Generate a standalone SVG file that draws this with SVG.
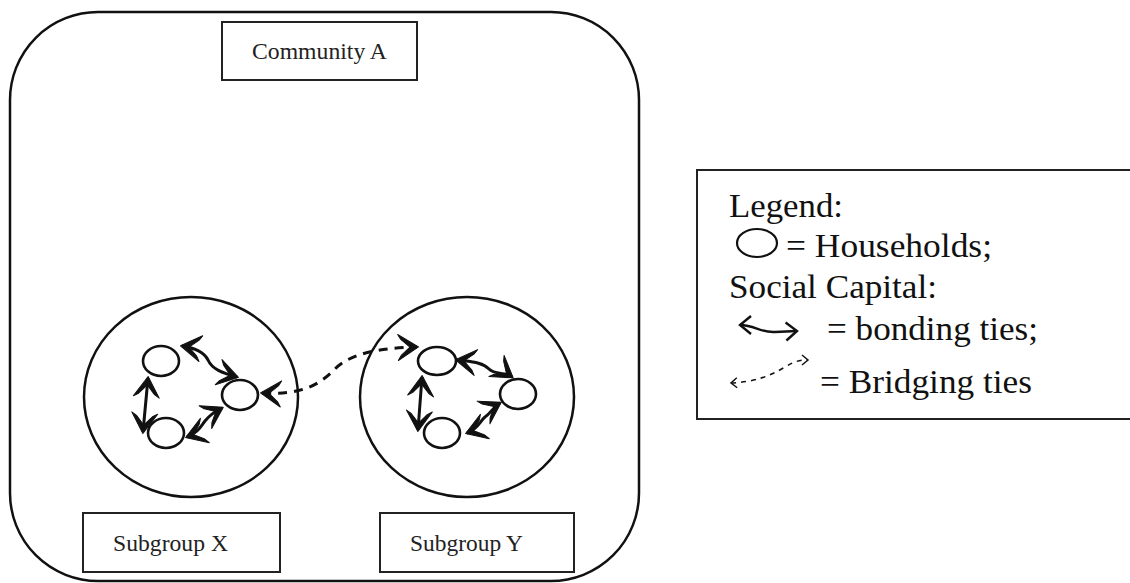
<svg xmlns="http://www.w3.org/2000/svg" width="1130" height="583" viewBox="0 0 1130 583">
  <style>
    .frame { fill: none; stroke: #111; stroke-width: 2.5; }
    .box { fill: #fff; stroke: #222; stroke-width: 2; }
    .label { font-family: "Liberation Serif", "Times New Roman", serif; font-size: 23px; fill: #222; }
    .legend-text { font-family: "Liberation Serif", "Times New Roman", serif; font-size: 33px; fill: #111; }
    .group { fill: none; stroke: #111; stroke-width: 2.5; }
    .house { fill: #fff; stroke: #111; stroke-width: 2.6; }
    .bond { fill: none; stroke: #111; stroke-width: 3; marker-start: url(#barb); marker-end: url(#barb); }
    .bridge { fill: none; stroke: #111; stroke-width: 3; stroke-dasharray: 9 7; marker-start: url(#barb); marker-end: url(#barb); }
    .key-bond { fill: none; stroke: #111; stroke-width: 2.4; marker-start: url(#open); marker-end: url(#open); }
    .key-bridge { fill: none; stroke: #111; stroke-width: 1.5; stroke-dasharray: 5 5; marker-start: url(#open-small); marker-end: url(#open-small); }
  </style>
  <defs>
    <!-- barbed head used on the household ties -->
    <marker id="barb" viewBox="-22 -16 24 32" refX="0" refY="0" markerWidth="24" markerHeight="32" markerUnits="userSpaceOnUse" orient="auto-start-reverse">
      <path d="M1.5,0 L-19,-13 L-16,-8 L-7,0 L-16,8 L-19,13 Z" fill="#111" stroke="#111" stroke-width="1" stroke-linejoin="round"/>
    </marker>
    <marker id="open" viewBox="-14 -11 16 22" refX="0" refY="0" markerWidth="16" markerHeight="22" markerUnits="userSpaceOnUse" orient="auto-start-reverse">
      <path d="M-11,-9 L0,0 L-11,9" fill="none" stroke="#111" stroke-width="2.4"/>
    </marker>
    <marker id="open-small" viewBox="-8 -6 10 12" refX="0" refY="0" markerWidth="10" markerHeight="12" markerUnits="userSpaceOnUse" orient="auto-start-reverse">
      <path d="M-6,-5 L0,0 L-6,5" fill="none" stroke="#111" stroke-width="1.5"/>
    </marker>
  </defs>

  <rect width="1130" height="583" fill="#fff"/>

  <!-- Community boundary -->
  <g id="community-a">
    <rect class="frame" x="10" y="12" width="629" height="569" rx="88" ry="88"/>
    <rect class="box" x="222" y="22" width="195" height="58"/>
    <text class="label" x="252" y="59" textLength="135" lengthAdjust="spacingAndGlyphs">Community A</text>
  </g>

  <!-- Subgroup X -->
  <g id="subgroup-x">
    <ellipse class="group" cx="191" cy="397" rx="107" ry="100"/>
    <rect class="box" x="83" y="513" width="197" height="59"/>
    <text class="label" x="113" y="551" textLength="115" lengthAdjust="spacingAndGlyphs">Subgroup X</text>
  </g>

  <!-- Subgroup Y -->
  <g id="subgroup-y">
    <ellipse class="group" cx="467" cy="397" rx="107" ry="100"/>
    <rect class="box" x="380" y="513" width="194" height="59"/>
    <text class="label" x="410" y="551" textLength="113" lengthAdjust="spacingAndGlyphs">Subgroup Y</text>
  </g>

  <!-- Ties between households -->
  <g id="connectors">
    <!-- bonding ties, subgroup X -->
    <path class="bond" d="M182,346 C196,348 204,352 208,360 C212,369 222,373 237,377"/>
    <path class="bond" d="M148,378 L143,432"/>
    <path class="bond" d="M187,437 C198,433 201,426 205,421 C210,415 213,413 222,408"/>
    <!-- bonding ties, subgroup Y -->
    <path class="bond" d="M457,360 C472,362 482,362 489,369 C495,375 505,372 512,377"/>
    <path class="bond" d="M422,377 L418,430"/>
    <path class="bond" d="M467,433 C478,429 480,421 485,417 C491,413 493,407 500,403"/>
    <!-- bridging tie between subgroups -->
    <path class="bridge" d="M262,393 C300,395 318,386 334,370 C350,353 380,348 417,347"/>
  </g>

  <!-- Households, subgroup X -->
  <g id="household-x1"><ellipse class="house" cx="161" cy="361" rx="18" ry="15"/></g>
  <g id="household-x2"><ellipse class="house" cx="240" cy="395" rx="18" ry="15"/></g>
  <g id="household-x3"><ellipse class="house" cx="166" cy="433" rx="18" ry="15"/></g>

  <!-- Households, subgroup Y -->
  <g id="household-y1"><ellipse class="house" cx="437" cy="361" rx="19" ry="14"/></g>
  <g id="household-y2"><ellipse class="house" cx="518" cy="394" rx="18" ry="15"/></g>
  <g id="household-y3"><ellipse class="house" cx="442" cy="433" rx="18" ry="15"/></g>

  <!-- Legend -->
  <g id="legend">
    <rect class="box" x="697" y="170" width="440" height="249" stroke-width="2.2"/>
    <text class="legend-text" x="729" y="217" textLength="114" lengthAdjust="spacingAndGlyphs">Legend:</text>
    <ellipse cx="757" cy="243" rx="20" ry="14" fill="none" stroke="#111" stroke-width="2.2"/>
    <text class="legend-text" x="786" y="257" textLength="206" lengthAdjust="spacingAndGlyphs">= Households;</text>
    <text class="legend-text" x="729" y="298" textLength="208" lengthAdjust="spacingAndGlyphs">Social Capital:</text>
    <path class="key-bond" d="M740,325 C755,325 760,333 775,332 L797,331"/>
    <text class="legend-text" x="827" y="340" textLength="211" lengthAdjust="spacingAndGlyphs">= bonding ties;</text>
    <path class="key-bridge" d="M731,383 C755,382 770,376 785,367 C795,361 800,360 808,360"/>
    <text class="legend-text" x="820" y="393" textLength="212" lengthAdjust="spacingAndGlyphs">= Bridging ties</text>
  </g>
</svg>
